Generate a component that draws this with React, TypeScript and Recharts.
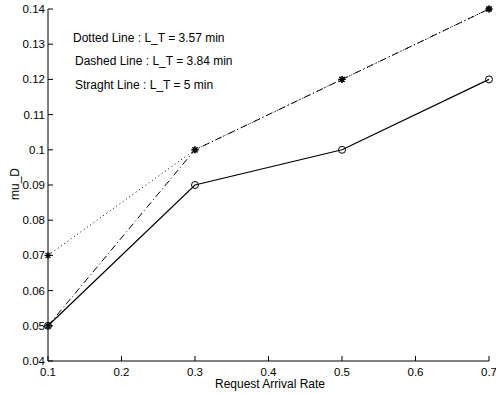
import React from "react";
import { ComposedChart, Line, XAxis, YAxis } from "recharts";

const rates = [0.1, 0.3, 0.5, 0.7];
const dottedValues = [0.07, 0.1, 0.12, 0.14];
const dashedValues = [0.05, 0.1, 0.12, 0.14];
const solidValues = [0.05, 0.09, 0.1, 0.12];
const xTicks = [0.1, 0.2, 0.3, 0.4, 0.5, 0.6, 0.7];
const yTicks = [0.04, 0.05, 0.06, 0.07, 0.08, 0.09, 0.1, 0.11, 0.12, 0.13, 0.14];
const legendLines = [
  "Dotted Line : L_T = 3.57 min",
  "Dashed Line : L_T = 3.84 min",
  "Straght Line : L_T = 5 min",
];

const data = rates.map((r, i) => ({
  rate: r,
  dotted: dottedValues[i],
  dashed: dashedValues[i],
  solid: solidValues[i],
}));

const FONT = "'Liberation Sans', Arial, Helvetica, sans-serif";
const fmt = (v: number) => String(Number(v.toFixed(2)));

const BottomTick = (props: any) => {
  const { x, y, payload } = props;
  return (
    <g>
      <line x1={x} y1={y} x2={x} y2={y - 5} stroke="#000" strokeWidth={1} />
      <text x={x} y={y + 15} textAnchor="middle" fontSize={11.5} fontFamily={FONT} fill="#000">
        {fmt(payload.value)}
      </text>
    </g>
  );
};
const TopTick = (props: any) => {
  const { x, y } = props;
  return <line x1={x} y1={y} x2={x} y2={y + 5} stroke="#000" strokeWidth={1} />;
};
const LeftTick = (props: any) => {
  const { x, y, payload } = props;
  return (
    <g>
      <line x1={x} y1={y} x2={x + 5} y2={y} stroke="#000" strokeWidth={1} />
      <text x={x - 3} y={y + 4} textAnchor="end" fontSize={11.5} fontFamily={FONT} fill="#000">
        {fmt(payload.value)}
      </text>
    </g>
  );
};
const RightTick = (props: any) => {
  const { x, y } = props;
  return <line x1={x} y1={y} x2={x - 5} y2={y} stroke="#000" strokeWidth={1} />;
};

const Star = (props: any) => {
  const { cx, cy } = props;
  const r = 3.5;
  const d = 2.5;
  return (
    <g stroke="#000" strokeWidth={1.2}>
      <line x1={cx - r} y1={cy} x2={cx + r} y2={cy} />
      <line x1={cx} y1={cy - r} x2={cx} y2={cy + r} />
      <line x1={cx - d} y1={cy - d} x2={cx + d} y2={cy + d} />
      <line x1={cx - d} y1={cy + d} x2={cx + d} y2={cy - d} />
    </g>
  );
};
const Circle = (props: any) => {
  const { cx, cy } = props;
  return <circle cx={cx} cy={cy} r={3.5} fill="none" stroke="#000" strokeWidth={1} />;
};

export default function App() {
  return (
    <div style={{ position: "absolute", left: 0, top: 0, width: 496, height: 394, background: "#fff" }}>
      <ComposedChart width={496} height={394} data={data} margin={{ top: 9, right: 7, bottom: 0, left: 0 }}>
        <XAxis
          xAxisId="b"
          dataKey="rate"
          type="number"
          domain={[0.1, 0.7]}
          ticks={xTicks}
          height={33}
          tickSize={0}
          tickMargin={0}
          tickLine={false}
          tick={<BottomTick />}
          stroke="#000"
          interval={0}
        />
        <XAxis
          xAxisId="t"
          orientation="top"
          dataKey="rate"
          type="number"
          domain={[0.1, 0.7]}
          ticks={xTicks}
          height={0}
          tickSize={0}
          tickMargin={0}
          tickLine={false}
          tick={<TopTick />}
          stroke="#000"
          interval={0}
        />
        <YAxis
          yAxisId="l"
          type="number"
          domain={[0.04, 0.14]}
          ticks={yTicks}
          width={48}
          tickSize={0}
          tickMargin={0}
          tickLine={false}
          tick={<LeftTick />}
          stroke="#000"
          interval={0}
        />
        <YAxis
          yAxisId="r"
          orientation="right"
          type="number"
          domain={[0.04, 0.14]}
          ticks={yTicks}
          width={0}
          tickSize={0}
          tickMargin={0}
          tickLine={false}
          tick={<RightTick />}
          stroke="#000"
          interval={0}
        />
        <Line
          xAxisId="b"
          yAxisId="l"
          dataKey="dotted"
          type="linear"
          stroke="#000"
          strokeWidth={1}
          strokeDasharray="1 3"
          dot={<Star />}
          activeDot={false}
          isAnimationActive={false}
        />
        <Line
          xAxisId="b"
          yAxisId="l"
          dataKey="dashed"
          type="linear"
          stroke="#000"
          strokeWidth={1}
          strokeDasharray="7 3 1 3"
          dot={<Star />}
          activeDot={false}
          isAnimationActive={false}
        />
        <Line
          xAxisId="b"
          yAxisId="l"
          dataKey="solid"
          type="linear"
          stroke="#000"
          strokeWidth={1.2}
          dot={<Circle />}
          activeDot={false}
          isAnimationActive={false}
        />
      </ComposedChart>
      <svg
        width={496}
        height={394}
        style={{ position: "absolute", left: 0, top: 0, pointerEvents: "none" }}
      >
        <text x={73} y={42} fontSize={12} fontFamily={FONT} fill="#000">{legendLines[0]}</text>
        <text x={75} y={65} fontSize={12} fontFamily={FONT} fill="#000">{legendLines[1]}</text>
        <text x={75} y={89} fontSize={12} fontFamily={FONT} fill="#000">{legendLines[2]}</text>
        <text x={270} y={388} textAnchor="middle" fontSize={12} fontFamily={FONT} fill="#000">
          Request Arrival Rate
        </text>
        <text
          x={19}
          y={184}
          textAnchor="middle"
          fontSize={12}
          fontFamily={FONT}
          fill="#000"
          transform="rotate(-90 19 184)"
        >
          mu_D
        </text>
      </svg>
    </div>
  );
}
